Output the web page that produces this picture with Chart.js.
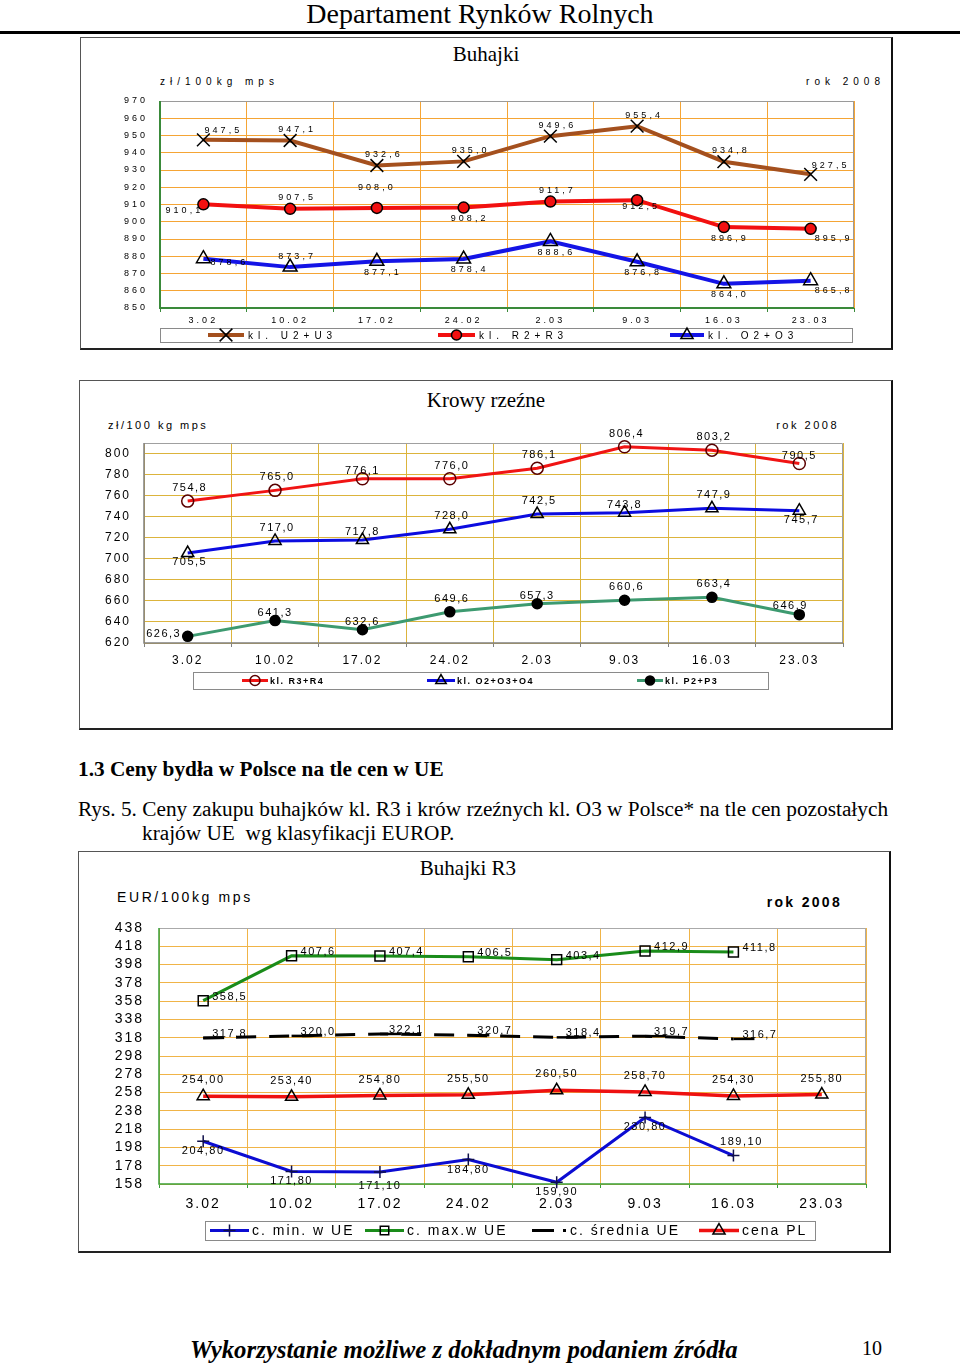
<!DOCTYPE html>
<html>
<head>
<meta charset="utf-8">
<script src="https://cdn.jsdelivr.net/npm/chart.js@4.4.1/dist/chart.umd.min.js"></script>
<style>
  body { margin: 0; width: 960px; height: 1365px; position: relative; background: #fff; overflow: hidden;
         font-family: 'Liberation Sans', Arial, sans-serif; color: #000; }
  .t { position: absolute; white-space: nowrap; line-height: 1; }
  .serif { font-family: 'Liberation Serif', 'Times New Roman', serif; }
  .c { transform: translateX(-50%); }
  .box { position: absolute; box-sizing: border-box; border: 1px solid #555; border-right: 2px solid #111; border-bottom: 2px solid #222; }
  canvas { position: absolute; }
  .rule { position: absolute; left: 0; top: 31px; width: 960px; height: 3px; background: #000; }
</style>
</head>
<body>

<div class="t serif c" style="left:480px;top:0px;font-size:28px;">Departament Rynków Rolnych</div>
<div class="rule"></div>

<!-- wykres 1 -->
<div class="box" style="left:80px;top:37px;width:813px;height:313px;"></div>
<div class="t serif c" style="left:486px;top:44px;font-size:21px;">Buhajki</div>
<div class="t" style="left:160px;top:77px;font-size:10px;letter-spacing:5px;">zł/100kg mps</div>
<div class="t" style="right:75px;top:77px;font-size:10px;letter-spacing:5px;">rok 2008</div>
<canvas id="c1" width="813" height="313" style="left:80px;top:37px;"></canvas>

<!-- wykres 2 -->
<div class="box" style="left:79px;top:380px;width:814px;height:350px;"></div>
<div class="t serif c" style="left:486px;top:390px;font-size:21px;">Krowy rzeźne</div>
<div class="t" style="left:108px;top:420px;font-size:11px;letter-spacing:2.5px;">zł/100 kg mps</div>
<div class="t" style="right:121px;top:420px;font-size:11px;letter-spacing:2.5px;">rok 2008</div>
<canvas id="c2" width="814" height="350" style="left:79px;top:380px;"></canvas>

<div class="t serif" style="left:78px;top:759px;font-size:21.3px;font-weight:bold;">1.3 Ceny bydła w Polsce na tle cen w UE</div>
<div class="t serif" style="left:78px;top:799px;font-size:21.3px;">Rys. 5. Ceny zakupu buhajków kl. R3 i krów rzeźnych kl. O3 w Polsce* na tle cen pozostałych</div>
<div class="t serif" style="left:142px;top:823px;font-size:21.3px;">krajów UE&nbsp; wg klasyfikacji EUROP.</div>

<!-- wykres 3 -->
<div class="box" style="left:78px;top:851px;width:813px;height:402px;"></div>
<div class="t serif c" style="left:468px;top:858px;font-size:21px;">Buhajki R3</div>
<div class="t" style="left:117px;top:890px;font-size:14px;letter-spacing:2.6px;">EUR/100kg mps</div>
<div class="t" style="right:118px;top:895px;font-size:14px;font-weight:bold;letter-spacing:2.3px;">rok 2008</div>
<canvas id="c3" width="813" height="402" style="left:78px;top:851px;"></canvas>

<div class="t serif" style="left:190px;top:1338px;font-size:24.8px;font-weight:bold;font-style:italic;">Wykorzystanie możliwe z dokładnym podaniem źródła</div>
<div class="t serif" style="left:862px;top:1338px;font-size:20px;">10</div>

<script>
// daty notowań (tydzień)
const dates = ['3.02', '10.02', '17.02', '24.02', '2.03', '9.03', '16.03', '23.03'];

// Buhajki, zł/100kg mps
const bullU = [947.5, 947.1, 932.6, 935.0, 949.6, 955.4, 934.8, 927.5];
const bullR = [910.1, 907.5, 908.0, 908.2, 911.7, 912.5, 896.9, 895.9];
const bullO = [878.6, 873.7, 877.1, 878.4, 888.6, 876.8, 864.0, 865.8];
const bullTicks = [850, 860, 870, 880, 890, 900, 910, 920, 930, 940, 950, 960, 970];

// Krowy rzeźne, zł/100kg mps
const cowR = [754.8, 765.0, 776.1, 776.0, 786.1, 806.4, 803.2, 790.5];
const cowO = [705.5, 717.0, 717.8, 728.0, 742.5, 743.8, 747.9, 745.7];
const cowP = [626.3, 641.3, 632.6, 649.6, 657.3, 660.6, 663.4, 646.9];
const cowTicks = [620, 640, 660, 680, 700, 720, 740, 760, 780, 800];

// Buhajki R3, EUR/100kg mps
const euMin = [204.8, 171.8, 171.1, 184.8, 159.9, 230.8, 189.1, null];
const euMax = [358.5, 407.6, 407.4, 406.5, 403.4, 412.9, 411.8, null];
const euAvg = [317.8, 320.0, 322.1, 320.7, 318.4, 319.7, 316.7, null];
const plPrice = [254.0, 253.4, 254.8, 255.5, 260.5, 258.7, 254.3, 255.8];
const euTicks = [158, 178, 198, 218, 238, 258, 278, 298, 318, 338, 358, 378, 398, 418, 438];

Chart.defaults.font.family = "'Liberation Sans', Arial, sans-serif";
Chart.defaults.color = '#000';

function drawMarker(ctx, style, x, y, r) {
    if (!r) return;
    ctx.beginPath();
    switch (style) {
        case 'circle':
            ctx.arc(x, y, r, 0, Math.PI * 2); ctx.fill(); ctx.stroke(); break;
        case 'triangle':
            ctx.moveTo(x, y - r); ctx.lineTo(x + r * 0.866, y + r * 0.5); ctx.lineTo(x - r * 0.866, y + r * 0.5);
            ctx.closePath(); ctx.fill(); ctx.stroke(); break;
        case 'rect':
            ctx.rect(x - r * 0.707, y - r * 0.707, r * 1.414, r * 1.414); ctx.fill(); ctx.stroke(); break;
        case 'cross':
            ctx.moveTo(x - r, y); ctx.lineTo(x + r, y); ctx.moveTo(x, y - r); ctx.lineTo(x, y + r); ctx.stroke(); break;
        case 'crossRot':
            const d = r * 0.707;
            ctx.moveTo(x - d, y - d); ctx.lineTo(x + d, y + d); ctx.moveTo(x + d, y - d); ctx.lineTo(x - d, y + d); ctx.stroke(); break;
        default:
            ctx.moveTo(x - r, y); ctx.lineTo(x + r, y); ctx.stroke();
    }
}

// rozstaw liter jak w oryginale
const spacing = {
    id: 'spacing',
    beforeUpdate(chart, args, opts) { chart.ctx.letterSpacing = opts.value; },
    beforeDraw(chart, args, opts) { chart.ctx.letterSpacing = opts.value; }
};

// ramka obszaru wykresu
const frame = {
    id: 'frame',
    beforeDatasetsDraw(chart, args, opts) {
        const { left, right, top, bottom } = chart.chartArea;
        const ctx = chart.ctx;
        ctx.save();
        ctx.strokeStyle = opts.edge; ctx.lineWidth = 1;
        ctx.beginPath(); ctx.moveTo(left, top + 0.5); ctx.lineTo(right - 0.5, top + 0.5); ctx.lineTo(right - 0.5, bottom); ctx.stroke();
        ctx.strokeStyle = opts.axis; ctx.lineWidth = opts.width;
        ctx.beginPath(); ctx.moveTo(left, top); ctx.lineTo(left, bottom); ctx.lineTo(right, bottom); ctx.stroke();
        ctx.restore();
    }
};

// etykiety wartości
const valueLabels = {
    id: 'valueLabels',
    afterDatasetsDraw(chart, args, opts) {
        const ctx = chart.ctx;
        ctx.save();
        ctx.font = opts.font;
        ctx.letterSpacing = opts.spacing;
        ctx.fillStyle = '#000';
        ctx.textBaseline = 'middle';
        chart.data.datasets.forEach((ds, di) => {
            const meta = chart.getDatasetMeta(di);
            meta.data.forEach((pt, i) => {
                const v = ds.data[i];
                if (v == null) return;
                const o = opts.offsets[ds.labelPos[i]];
                ctx.textAlign = o[2] || 'center';
                ctx.fillText(v.toFixed(ds.decimals).replace('.', ','), pt.x + o[0], pt.y + o[1]);
            });
        });
        ctx.restore();
    }
};

// legenda w ramce pod osią
const boxLegend = {
    id: 'boxLegend',
    afterDraw(chart, args, opts) {
        const ctx = chart.ctx;
        const [x0, y0, x1, y1] = opts.box;
        const cy = (y0 + y1) / 2;
        ctx.save();
        ctx.strokeStyle = '#8a8a8a'; ctx.lineWidth = 1;
        ctx.strokeRect(x0 + 0.5, y0 + 0.5, x1 - x0, y1 - y0);
        ctx.font = opts.font; ctx.letterSpacing = opts.spacing;
        ctx.textBaseline = 'middle'; ctx.textAlign = 'left';
        chart.data.datasets.forEach((ds, i) => {
            const it = opts.items[i];
            ctx.strokeStyle = ds.borderColor; ctx.lineWidth = ds.borderWidth;
            ctx.setLineDash(it.dash || []);
            ctx.beginPath(); ctx.moveTo(it.x, cy); ctx.lineTo(it.x + it.len, cy); ctx.stroke();
            ctx.setLineDash([]);
            ctx.fillStyle = ds.pointBackgroundColor; ctx.strokeStyle = ds.pointBorderColor; ctx.lineWidth = ds.pointBorderWidth;
            drawMarker(ctx, ds.pointStyle, it.x + it.len / 2, cy, it.r);
            ctx.fillStyle = '#000';
            ctx.fillText(ds.label, it.x + it.len + opts.gap, cy + 1);
        });
        ctx.restore();
    }
};

function series(label, data, color, width, style, radius, fill, border, pos, decimals, extra) {
    return Object.assign({
        label: label, data: data, borderColor: color, borderWidth: width, tension: 0,
        pointStyle: style, pointRadius: radius, pointBackgroundColor: fill, pointBorderColor: border,
        pointBorderWidth: 1.5, clip: false, labelPos: pos, decimals: decimals
    }, extra || {});
}

function xScale(grid, tickColor, size, height, pad) {
    return {
        offset: true,
        grid: { offset: true, color: grid, drawTicks: true, tickLength: 4, tickColor: tickColor },
        border: { display: false },
        ticks: { font: { size: size }, padding: pad, maxRotation: 0, autoSkip: false },
        afterFit(s) { s.height = height; }
    };
}

function yScale(min, max, ticks, grid, size, width, pad) {
    return {
        min: min, max: max,
        afterBuildTicks(s) { s.ticks = ticks.map(v => ({ value: v })); },
        grid: { color: grid, drawTicks: false },
        border: { display: false },
        ticks: { font: { size: size }, padding: pad, autoSkip: false },
        afterFit(s) { s.width = width; }
    };
}

const basePlugins = [spacing, frame, valueLabels, boxLegend];

// 1. Buhajki
new Chart(document.getElementById('c1'), {
    type: 'line',
    data: {
        labels: dates,
        datasets: [
            series('kl. U2+U3', bullU, '#a4501e', 4, 'crossRot', 9, '#000', '#000', ['A', 'a', 'a', 'a', 'a', 'a', 'a', 'A'], 1),
            series('kl. R2+R3', bullR, '#f21010', 4, 'circle', 5.5, '#f21010', '#000', ['l', 'a', 'h', 'b', 'a', 'c', 'b', 'B'], 1),
            series('kl. O2+O3', bullO, '#1414e6', 4, 'triangle', 8, 'rgba(255,255,255,0)', '#000', ['R', 'a', 'b', 'b', 'b', 'b', 'b', 'B'], 1)
        ]
    },
    options: {
        responsive: false, animation: false,
        layout: { padding: { left: 0, right: 39, top: 64, bottom: 0 } },
        scales: {
            x: xScale('#f5a535', '#3a8a3a', 9, 42, 3),
            y: yScale(850, 970, bullTicks, '#f5a535', 9, 80, 12)
        },
        plugins: {
            legend: { display: false }, tooltip: { enabled: false },
            spacing: { value: '3px' },
            frame: { edge: '#9a9a9a', axis: '#3a8a3a', width: 2 },
            valueLabels: {
                font: "9px 'Liberation Sans', Arial, sans-serif", spacing: '3px',
                offsets: { a: [7, -11], A: [20, -9], h: [0, -20], b: [6, 11], B: [23, 10], c: [4, 6], l: [-19, 6], R: [26, 4] }
            },
            boxLegend: {
                box: [80, 291, 772, 305], font: "10px 'Liberation Sans', Arial, sans-serif", spacing: '5px', gap: 4,
                items: [{ x: 128, len: 36, r: 9 }, { x: 358, len: 37, r: 5 }, { x: 590, len: 34, r: 7 }]
            }
        }
    },
    plugins: basePlugins
});

// 2. Krowy rzeźne
new Chart(document.getElementById('c2'), {
    type: 'line',
    data: {
        labels: dates,
        datasets: [
            series('kl. R3+R4', cowR, '#f01414', 3, 'circle', 6, 'rgba(255,255,255,0)', '#5a0000', ['a', 'a', 'c', 'a', 'a', 'a', 'a', 'c'], 1),
            series('kl. O2+O3+O4', cowO, '#0c0ce0', 3, 'triangle', 7, 'rgba(255,255,255,0)', '#000', ['b', 'a', 'c', 'a', 'a', 'c', 'a', 'b'], 1),
            series('kl. P2+P3', cowP, '#3d9a70', 3, 'circle', 5, '#000', '#000', ['l', 'c', 'c', 'a', 'c', 'a', 'a', 'L'], 1)
        ]
    },
    options: {
        responsive: false, animation: false,
        layout: { padding: { left: 0, right: 50, top: 63, bottom: 0 } },
        scales: {
            x: xScale('#dcb43c', '#808080', 12, 87, 6),
            y: yScale(620, 810, cowTicks, '#dcb43c', 12, 65, 13)
        },
        plugins: {
            legend: { display: false }, tooltip: { enabled: false },
            spacing: { value: '2px' },
            frame: { edge: '#a0a0a0', axis: '#808080', width: 1.5 },
            valueLabels: {
                font: "11px 'Liberation Sans', Arial, sans-serif", spacing: '1.5px',
                offsets: { a: [2, -13], c: [0, -8], b: [2, 9], l: [-24, -2], L: [-9, -9] }
            },
            boxLegend: {
                box: [114, 292, 689, 309], font: "bold 9px 'Liberation Sans', Arial, sans-serif", spacing: '1.5px', gap: 2,
                items: [{ x: 163, len: 26, r: 5 }, { x: 348, len: 28, r: 6 }, { x: 558, len: 26, r: 4.5 }]
            }
        }
    },
    plugins: basePlugins
});

// 3. Buhajki R3 na tle UE
new Chart(document.getElementById('c3'), {
    type: 'line',
    data: {
        labels: dates,
        datasets: [
            series('c. min. w UE', euMin, '#0c0cd2', 3, 'cross', 6, '#000', '#10104a', ['b', 'b', 'B', 'b', 'b', 'b', 'A', 'b'], 2),
            series('c. max.w UE', euMax, '#1a8c1a', 3, 'rect', 7, 'rgba(255,255,255,0)', '#000', ['r', 'r', 'r', 'r', 'r', 'r', 'r', 'r'], 1),
            series('c. średnia UE', euAvg, '#000', 3, 'dash', 21, '#000', '#000', ['r', 'r', 'r', 'r', 'r', 'r', 'r', 'r'], 1,
                { borderDash: [20, 13], pointBorderWidth: 2.5 }),
            series('cena PL', plPrice, '#ee1111', 3.5, 'triangle', 7, 'rgba(255,255,255,0)', '#000', ['a', 'a', 'a', 'a', 'a', 'a', 'a', 'a'], 2)
        ]
    },
    options: {
        responsive: false, animation: false,
        layout: { padding: { left: 0, right: 25, top: 77, bottom: 0 } },
        scales: {
            x: xScale('#f0b448', '#3aa03a', 14, 69, 8),
            y: yScale(158, 438, euTicks, '#f0b448', 14, 81, 15)
        },
        plugins: {
            legend: { display: false }, tooltip: { enabled: false },
            spacing: { value: '2px' },
            frame: { edge: '#aaaaaa', axis: '#3aa03a', width: 1.5 },
            valueLabels: {
                font: "11px 'Liberation Sans', Arial, sans-serif", spacing: '1.5px',
                offsets: { a: [0, -16], b: [0, 10], B: [0, 14], A: [8, -14], r: [9, -4, 'left'] }
            },
            boxLegend: {
                box: [127, 370, 737, 389], font: "14px 'Liberation Sans', Arial, sans-serif", spacing: '2px', gap: 3,
                items: [{ x: 132, len: 39, r: 6 }, { x: 287, len: 39, r: 6 }, { x: 454, len: 35, r: 0, dash: [22, 9, 3, 9] }, { x: 621, len: 40, r: 7 }]
            }
        }
    },
    plugins: basePlugins
});
</script>
</body>
</html>
